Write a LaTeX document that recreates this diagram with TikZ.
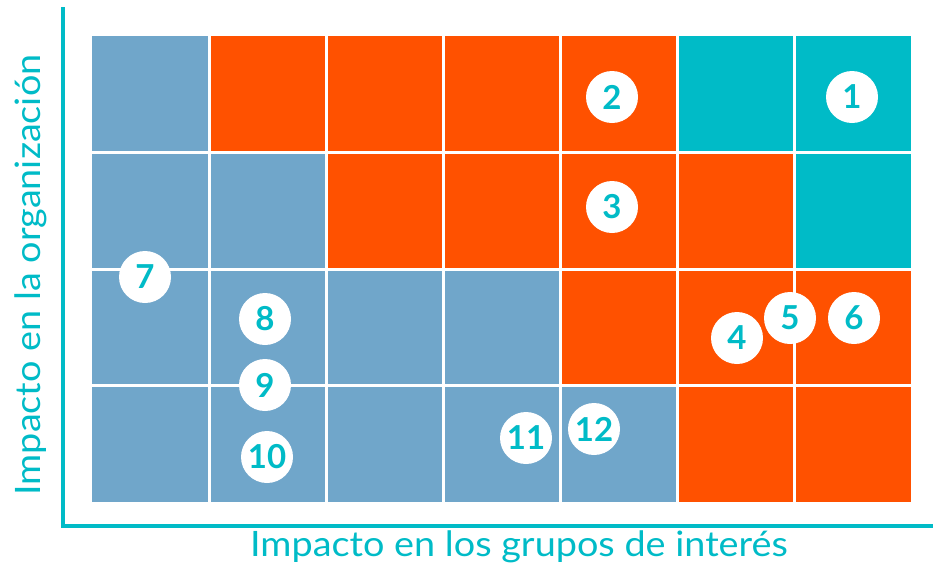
\documentclass[tikz,border=0pt]{standalone}
\usepackage{fontspec}
\usepackage{graphicx}
\setmainfont{Lato}
\definecolor{cblue}{HTML}{70A6CA}
\definecolor{corange}{HTML}{FF5100}
\definecolor{cteal}{HTML}{00BBC7}
\newcommand{\widetext}[1]{\scalebox{1.08}[1]{#1}}
\begin{document}
\begin{tikzpicture}[x=1pt,y=-1pt,
  badge/.style={circle,fill=white,minimum size=52pt,inner sep=0pt,text=cteal,font=\fontsize{33}{33}\selectfont\bfseries},
  axislabel/.style={text=cteal,font=\fontsize{35}{35}\selectfont}]
\useasboundingbox (0,0) rectangle (933,568);
% grid
\def\cw{117}
\def\ch{116.5}
\foreach \r/\cols in {0/{cblue,corange,corange,corange,corange,cteal,cteal},
                      1/{cblue,cblue,corange,corange,corange,corange,cteal},
                      2/{cblue,cblue,cblue,cblue,corange,corange,corange},
                      3/{cblue,cblue,cblue,cblue,cblue,corange,corange}}{
  \foreach \c [count=\i from 0] in \cols {
    \fill[\c] (92+\i*\cw,36+\r*\ch) rectangle (92+\i*\cw+\cw,36+\r*\ch+\ch);
  }
}
\foreach \i in {1,...,6} \draw[white,line width=3pt] (92+\i*\cw,36) -- (92+\i*\cw,502);
\foreach \r in {1,2,3} \draw[white,line width=3pt] (92,36+\r*\ch) -- (911,36+\r*\ch);
% axes
\coordinate (top) at (63,7);
\coordinate (origin) at (63,526);
\coordinate (right) at (933,526);
\draw[cteal,line width=4pt] (top) -- (origin) -- (right);
\node[axislabel] (xl) at (519,547) {\widetext{Impacto en los grupos de interés}};
\node[axislabel,rotate=90] (yl) at (31,275) {\widetext{Impacto en la organización}};
% badges
\node[badge] (n1) at (852,97) {1};
\node[badge] (n2) at (612,97) {2};
\node[badge] (n3) at (612,207) {3};
\node[badge] (n4) at (737,338) {4};
\node[badge] (n5) at (790,318) {5};
\node[badge] (n6) at (854,318) {6};
\node[badge] (n7) at (145,277) {7};
\node[badge] (n8) at (265,319) {8};
\node[badge] (n9) at (265,385) {9};
\node[badge] (n10) at (267,457) {10};
\node[badge] (n11) at (526,438) {11};
\node[badge] (n12) at (594,429) {12};
\end{tikzpicture}
\end{document}
